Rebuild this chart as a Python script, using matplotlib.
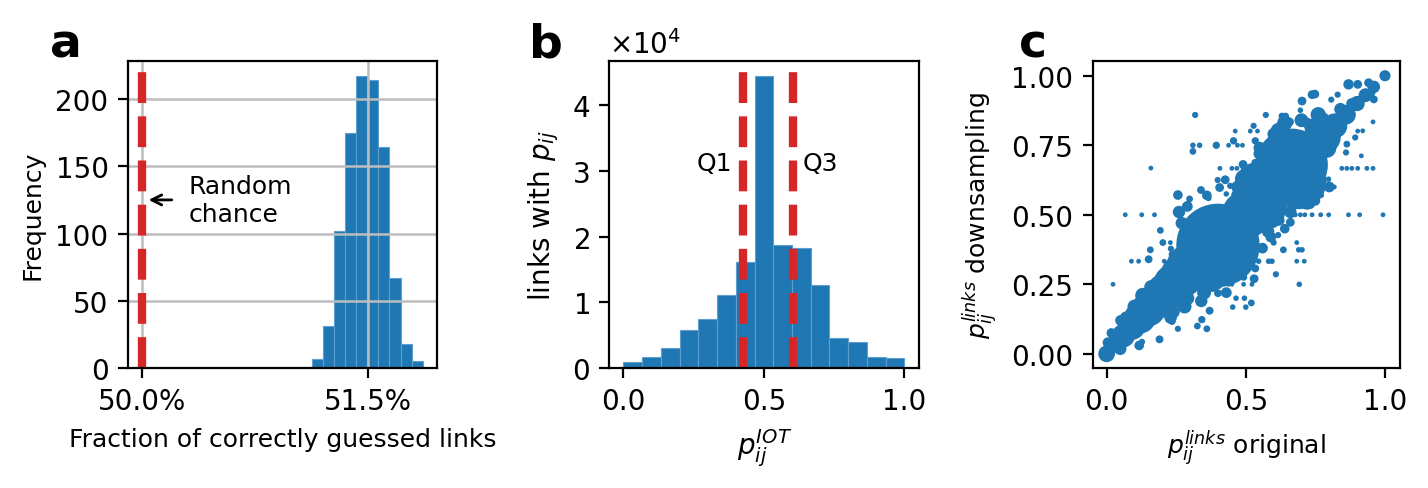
import matplotlib
matplotlib.use("Agg")
import matplotlib.pyplot as plt
from matplotlib.ticker import PercentFormatter, FormatStrFormatter

# ---------------- data ----------------
# panel a: histogram of fraction of correctly guessed links
a_edges = [0.51127, 0.51200, 0.51274, 0.51347, 0.51420, 0.51494,
           0.51567, 0.51640, 0.51714, 0.51787, 0.51860]
a_counts = [7, 31, 102, 175, 217, 214, 164, 67, 18, 5]
a_random = 0.50

# panel b: histogram of p_ij^IOT
b_edges = [i / 15 for i in range(16)]
b_counts = [910, 1730, 3000, 5740, 7520, 11130, 16110, 44360,
            18650, 18190, 12550, 4620, 3960, 1680, 1470]
b_q1 = 0.424
b_q3 = 0.605

# panel c: scatter p_ij^links original vs downsampling (x, y, marker size)
c_x = [0.40, 0.665, 0.69, 0.50, 0.56, 0.58, 0.53, 0.498,
       0.00, 0.03, 0.06, 0.09, 0.12, 0.15, 0.18, 0.21, 0.24, 0.27, 0.30, 0.33,
       0.78, 0.82, 0.86, 0.90, 0.93, 0.96, 1.00,
       0.318, 0.159, 0.067, 0.126, 0.172, 0.256, 0.298, 0.339, 0.31, 0.334, 0.31,
       0.394, 0.438, 0.47, 0.488, 0.456, 0.462, 0.528, 0.516, 0.542, 0.534,
       0.49, 0.534, 0.407, 0.45, 0.468, 0.492, 0.399, 0.426, 0.406, 0.444,
       0.43, 0.366, 0.572, 0.63, 0.643, 0.657, 0.696, 0.702, 0.738, 0.748,
       0.83, 0.807, 0.869, 0.902, 0.941, 0.955, 0.95, 0.96, 0.957, 0.92, 0.902,
       0.893, 0.915, 0.863, 0.86, 0.818, 0.792, 0.771, 0.797,
       0.845, 0.863, 0.881, 0.902, 0.935, 0.957,
       0.678, 0.696, 0.712, 0.738, 0.769, 0.798, 0.869, 0.909, 0.993,
       0.023, 0.089, 0.115, 0.207, 0.157, 0.151, 0.193, 0.202, 0.229, 0.231,
       0.235, 0.683, 0.69, 0.702, 0.683, 0.71, 0.635, 0.66, 0.616, 0.60,
       0.608, 0.692, 0.534, 0.546, 0.582, 0.594, 0.492, 0.492, 0.522, 0.45,
       0.438, 0.465, 0.495, 0.453, 0.50, 0.52, 0.402, 0.40, 0.36, 0.342,
       0.326, 0.256, 0.235, 0.19, 0.127, 0.117, 0.017, 0.049, 0.005, 0.37,
       0.07, 0.05, 0.10, 0.13, 0.16, 0.21, 0.26, 0.30, 0.34, 0.23, 0.28,
       0.35, 0.38, 0.44, 0.56, 0.62, 0.75, 0.79, 0.80, 0.72, 0.60, 0.55,
       0.64, 0.70, 0.76, 0.84, 0.88, 0.77, 0.73, 0.59, 0.47, 0.52, 0.62,
       0.66, 0.58,
       0.26, 0.29, 0.36, 0.52, 0.55, 0.60, 0.72, 0.80, 0.75, 0.64, 0.56,
       0.53, 0.34, 0.29, 0.24, 0.43, 0.58, 0.47, 0.27, 0.63]
c_y = [0.39, 0.68, 0.62, 0.50, 0.56, 0.51, 0.58, 0.628,
       0.00, 0.035, 0.065, 0.10, 0.13, 0.16, 0.19, 0.22, 0.25, 0.28, 0.31, 0.34,
       0.78, 0.82, 0.86, 0.90, 0.93, 0.96, 1.00,
       0.859, 0.668, 0.50, 0.50, 0.50, 0.571, 0.557, 0.589, 0.75, 0.75, 0.728,
       0.75, 0.75, 0.75, 0.75, 0.766, 0.801, 0.82, 0.801, 0.801, 0.766,
       0.681, 0.687, 0.667, 0.667, 0.667, 0.667, 0.625, 0.626, 0.598, 0.604,
       0.575, 0.56, 0.859, 0.855, 0.855, 0.834, 0.876, 0.909, 0.932, 0.934,
       0.932, 0.914, 0.969, 0.969, 0.975, 0.96, 0.94, 0.915, 0.834, 0.802, 0.801,
       0.778, 0.712, 0.754, 0.724, 0.60, 0.60, 0.57, 0.628,
       0.667, 0.667, 0.667, 0.667, 0.667, 0.667,
       0.50, 0.50, 0.50, 0.50, 0.50, 0.50, 0.50, 0.50, 0.50,
       0.25, 0.333, 0.333, 0.333, 0.374, 0.34, 0.444, 0.40, 0.40, 0.378,
       0.358, 0.40, 0.374, 0.374, 0.333, 0.333, 0.374, 0.473, 0.427, 0.40,
       0.286, 0.25, 0.307, 0.333, 0.333, 0.333, 0.276, 0.25, 0.25, 0.25,
       0.25, 0.20, 0.20, 0.168, 0.168, 0.183, 0.247, 0.218, 0.09, 0.123,
       0.10, 0.09, 0.117, 0.052, 0.043, 0.03, 0.075, 0.018, 0.04, 0.155,
       0.13, 0.12, 0.17, 0.21, 0.24, 0.27, 0.31, 0.355, 0.37, 0.13, 0.17,
       0.22, 0.25, 0.28, 0.61, 0.80, 0.81, 0.74, 0.82, 0.55, 0.79, 0.72,
       0.83, 0.84, 0.86, 0.88, 0.90, 0.84, 0.54, 0.42, 0.57, 0.58, 0.48,
       0.51, 0.73,
       0.51, 0.53, 0.57, 0.66, 0.74, 0.79, 0.83, 0.60, 0.55, 0.45, 0.38,
       0.27, 0.19, 0.20, 0.15, 0.22, 0.44, 0.60, 0.47, 0.52]
c_s = [900, 676, 400, 300, 320, 150, 120, 55,
       36, 40, 70, 100, 130, 150, 170, 190, 210, 240, 300, 280,
       150, 80, 50, 30, 25, 20, 16,
       5, 3, 3, 3, 3, 12, 6, 8, 4, 4, 6,
       7, 3, 3, 3, 7, 3, 5, 3, 3, 7,
       10, 8, 3, 3, 3, 4, 5, 10, 10, 5,
       4, 5, 5, 6, 6, 10, 4, 10, 10, 10,
       5, 5, 14, 10, 10, 12, 10, 8, 3, 3, 3,
       5, 3, 6, 5, 3, 3, 4, 4,
       3, 3, 3, 3, 3, 3,
       3, 3, 3, 3, 3, 3, 3, 3, 3,
       3, 3, 3, 3, 6, 8, 6, 6, 3, 5,
       6, 3, 4, 4, 3, 3, 6, 10, 5, 5,
       5, 4, 8, 4, 4, 4, 7, 3, 3, 3,
       3, 4, 4, 4, 4, 6, 8, 8, 6, 7,
       6, 5, 7, 8, 5, 12, 12, 20, 15, 8,
       20, 15, 25, 30, 25, 30, 40, 40, 60, 20, 25,
       25, 30, 20, 60, 40, 60, 50, 30, 40, 15, 20,
       30, 25, 30, 20, 15, 40, 15, 15, 20, 25, 15,
       20, 25,
       20, 15, 12, 25, 20, 20, 15, 15, 12, 12, 15,
       10, 20, 25, 20, 15, 20, 20, 20, 15]

# ---------------- figure ----------------
plt.rcParams['font.family'] = ['DejaVu Sans']
fig = plt.figure(figsize=(7.14, 2.445), dpi=200)
blue = '#1f77b4'
red = '#d62728'
tick_fs = 10

axa = fig.add_axes([0.0896, 0.2454, 0.2164, 0.6278])
axb = fig.add_axes([0.4267, 0.2454, 0.2169, 0.6278])
axc = fig.add_axes([0.7652, 0.2454, 0.2152, 0.6278])

# panel a
axa.hist(a_edges[:-1], bins=a_edges, weights=a_counts, color=blue,
         edgecolor='#5d9fd0', linewidth=0.4)
axa.grid(True, color='#bdbdbd', linewidth=0.9)
axa.vlines(a_random, 0, 220, colors=red, linestyles='--', linewidth=3)
axa.set_xlim(0.49907, 0.51955)
axa.set_ylim(0, 228.3)
axa.set_xticks([0.50, 0.515])
axa.xaxis.set_major_formatter(PercentFormatter(xmax=1, decimals=1))
axa.set_yticks([0, 50, 100, 150, 200])
axa.tick_params(labelsize=tick_fs)
axa.set_xlabel('Fraction of correctly guessed links', fontsize=9)
axa.set_ylabel('Frequency', fontsize=9)
axa.annotate('Random\nchance', xy=(0.50044, 125), xytext=(0.50308, 125),
             fontsize=9, va='center', ha='left',
             arrowprops=dict(arrowstyle='->', color='black', lw=1.0,
                             shrinkA=4, shrinkB=0))

# panel b
axb.hist(b_edges[:-1], bins=b_edges, weights=b_counts, color=blue,
         edgecolor='#5d9fd0', linewidth=0.4)
axb.vlines([b_q1, b_q3], 0, 45000, colors=red, linestyles='--', linewidth=3)
axb.set_xlim(-0.05, 1.052)
axb.set_ylim(0, 46700)
axb.set_xticks([0.0, 0.5, 1.0])
axb.set_yticks([0, 10000, 20000, 30000, 40000])
axb.ticklabel_format(axis='y', style='sci', scilimits=(0, 0), useMathText=True)
axb.yaxis.get_offset_text().set_fontsize(tick_fs)
axb.tick_params(labelsize=tick_fs)
axb.text(0.386, 31250, 'Q1', fontsize=9, ha='right', va='center')
axb.text(0.637, 31250, 'Q3', fontsize=9, ha='left', va='center')
axb.set_xlabel('$p_{ij}^{IOT}$', fontsize=10)
axb.set_ylabel('links with $p_{ij}$', fontsize=10)

# panel c
axc.scatter(c_x, c_y, s=c_s, color=blue, linewidths=0)
axc.set_xlim(-0.05, 1.054)
axc.set_ylim(-0.051, 1.053)
axc.set_xticks([0.0, 0.5, 1.0])
axc.set_yticks([0.0, 0.25, 0.5, 0.75, 1.0])
axc.yaxis.set_major_formatter(FormatStrFormatter('%.2f'))
axc.xaxis.set_major_formatter(FormatStrFormatter('%.1f'))
axc.tick_params(labelsize=tick_fs)
axc.set_xlabel('$p_{ij}^{links}$ original', fontsize=9)
axc.set_ylabel('$p_{ij}^{links}$ downsampling', fontsize=9)

# panel letters
fig.text(50 / 1428, 1 - 58 / 489, 'a', fontsize=17, fontweight='bold')
fig.text(529 / 1428, 1 - 58 / 489, 'b', fontsize=17, fontweight='bold')
fig.text(1019 / 1428, 1 - 58 / 489, 'c', fontsize=17, fontweight='bold')

fig.savefig('out.png', dpi=200)
